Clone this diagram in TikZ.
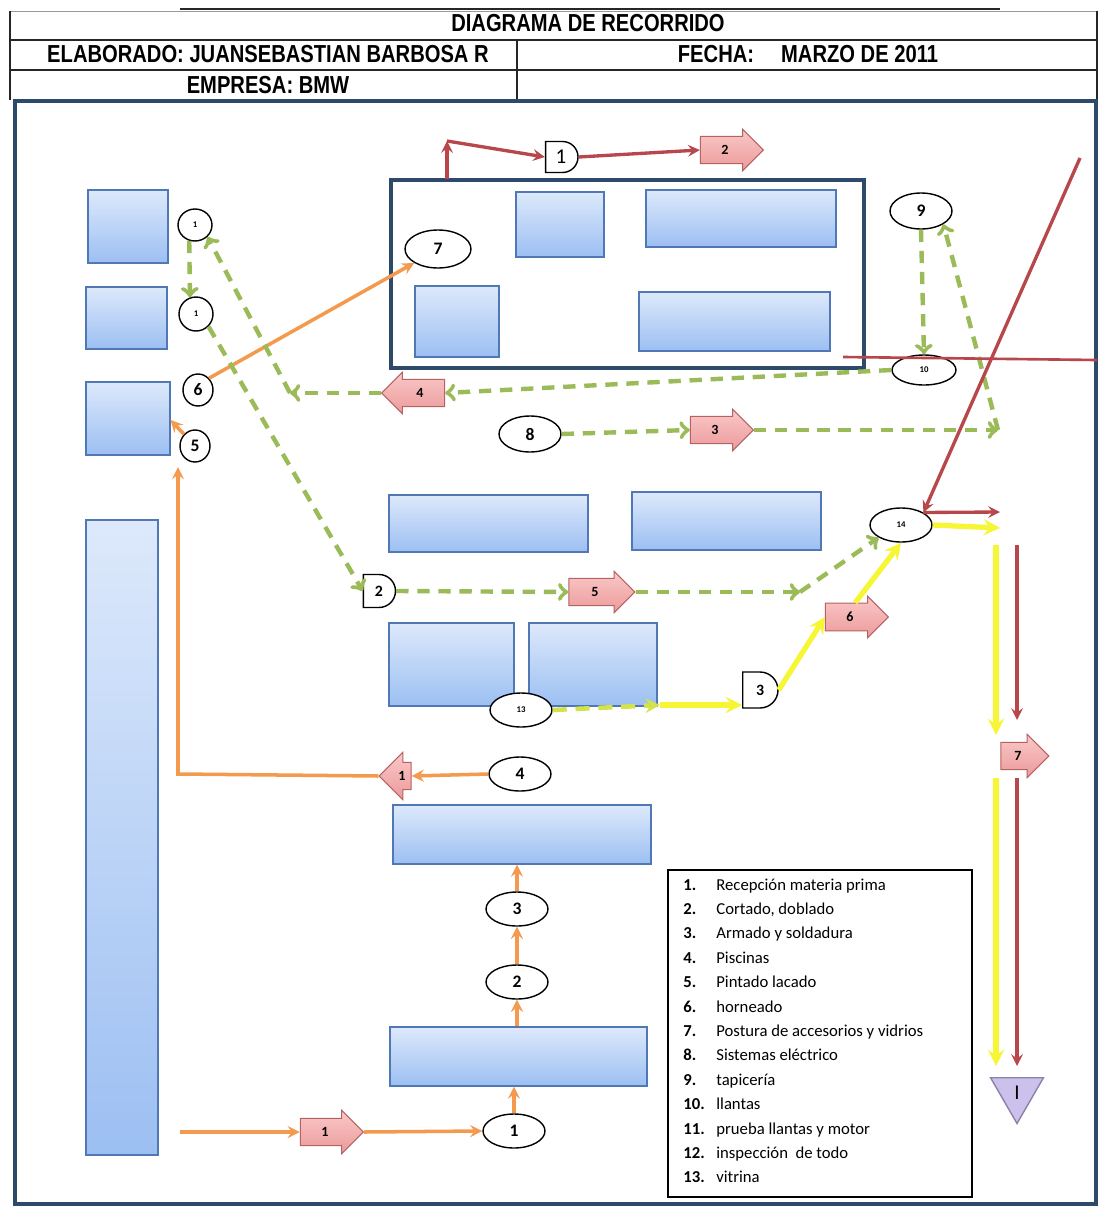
\documentclass[tikz,border=0pt]{standalone}
\usepackage{fontspec}
\setmainfont{Carlito}
\newfontfamily\hdrfont[FakeStretch=0.82]{Liberation Sans}
\usepackage{xcolor}
\usepackage{tikz}
\usetikzlibrary{shapes.geometric, shapes.arrows, shapes.misc, arrows, positioning, fit}

\definecolor{navy}{HTML}{2E4A6A}
\definecolor{boxtop}{HTML}{DDE9FB}
\definecolor{boxbot}{HTML}{9CBFF2}
\definecolor{boxline}{HTML}{4F78B4}
\definecolor{pinktop}{HTML}{FAC8C8}
\definecolor{pinkbot}{HTML}{EC9A9A}
\definecolor{pinkline}{HTML}{B56262}
\definecolor{redln}{HTML}{B8474B}
\definecolor{orangeln}{HTML}{F39A4E}
\definecolor{greenln}{HTML}{9BBB59}
\definecolor{yellowln}{HTML}{F6F634}
\definecolor{ygreen}{HTML}{D4E34A}
\definecolor{trifill}{HTML}{CCC1EC}
\definecolor{triline}{HTML}{8A82A8}

\begin{document}
\begin{tikzpicture}[x=0.02cm, y=-0.02cm, >=stealth]
        \tikzstyle{hdr} = [inner sep=0pt, font=\hdrfont\bfseries\fontsize{14}{16}\selectfont]
        \tikzstyle{bluebox} = [rectangle, draw=boxline, line width=0.6pt, top color=boxtop, bottom color=boxbot, inner sep=0pt]
        \tikzstyle{station} = [ellipse, draw=black, line width=0.8pt, fill=white, inner sep=0pt, minimum width=1.24cm, minimum height=0.68cm, font=\bfseries\normalsize]
        \tikzstyle{delay} = [rounded rectangle, rounded rectangle left arc=none, draw=black, line width=0.8pt, fill=white, inner sep=1pt, minimum width=0.72cm, minimum height=0.62cm]
        \tikzstyle{pinkarrow} = [single arrow, draw=pinkline, line width=0.6pt, top color=pinktop, bottom color=pinkbot, single arrow head extend=0.14cm, inner xsep=0.05cm, inner ysep=0.17cm, minimum height=1.26cm, font=\bfseries\footnotesize]
        \tikzstyle{oline} = [draw=orangeln, line width=2pt, ->]
        \tikzstyle{rline} = [draw=redln, line width=1.9pt, ->]
        \tikzstyle{gline} = [draw=greenln, line width=2.5pt, dash pattern=on 7pt off 5pt, -to]
        \tikzstyle{yline} = [draw=yellowln, line width=3pt, ->]

        \useasboundingbox (0,0) rectangle (1099,1207);
        \fill[white] (0,0) rectangle (1099,1207);

        % encabezado
        \draw[line width=1.6pt, black!85] (180,9) -- (1000,9);
        \draw[line width=0.4pt, black!40] (10,11) -- (1097,11);
        \draw[line width=0.8pt, black!85] (10,11) -- (10,100) (1097,11) -- (1097,100);
        \draw[line width=0.8pt, black!85] (10,40) -- (1097,40) (10,70) -- (1097,70) (517,40) -- (517,100);
        \node[hdr] (titulo) at (588,23) {DIAGRAMA DE RECORRIDO};
        \node[hdr] (elab) at (268,54) {ELABORADO: JUANSEBASTIAN BARBOSA R};
        \node[hdr] (fecha) at (808,54) {FECHA:\hspace{1.1em}MARZO DE 2011};
        \node[hdr] (empresa) at (268,85) {EMPRESA: BMW};

        \draw[navy, line width=2.4pt] (15,101) rectangle (1096,1204);

        % cajas
        \node[bluebox, fit={(88,190) (168,263)}] (b1) {};
        \node[bluebox, fit={(86,287) (167,349)}] (b2) {};
        \node[bluebox, fit={(86,382) (170,455)}] (b3) {};
        \node[bluebox, fit={(86,520) (158,1155)}] (b4) {};
        \node[draw=navy, line width=2.4pt, inner sep=0pt, fit={(391,180) (864,368)}] (zona) {};
        \node[bluebox, fit={(516,192) (604,257)}] (b5) {};
        \node[bluebox, fit={(646,190) (836,247)}] (b6) {};
        \node[bluebox, fit={(415,286) (499,357)}] (b7) {};
        \node[bluebox, fit={(639,292) (830,351)}] (b8) {};
        \node[bluebox, fit={(389,495) (588,552)}] (b9) {};
        \node[bluebox, fit={(632,492) (821,550)}] (b10) {};
        \node[bluebox, fit={(389,623) (514,706)}] (b11) {};
        \node[bluebox, fit={(529,623) (657,706)}] (b12) {};
        \node[bluebox, fit={(393,805) (651,864)}] (b13) {};
        \node[bluebox, fit={(390,1027) (647,1086)}] (b14) {};

        % estaciones
        \node[station] (e1) at (514,1131) {1};
        \node[station] (e2) at (517,982) {2};
        \node[station] (e3) at (517,909) {3};
        \node[station] (e4) at (520,774) {4};
        \node[station, minimum width=0.6cm, minimum height=0.64cm] (e5) at (195,446) {5};
        \node[station, minimum width=0.6cm, minimum height=0.64cm] (e6) at (198,390) {6};
        \node[station, minimum width=1.32cm, minimum height=0.76cm] (e7) at (438,249) {7};
        \node[station, minimum height=0.72cm] (e8) at (530,434) {8};
        \node[station, minimum height=0.72cm] (e9) at (921,211) {9};
        \node[station, minimum width=1.28cm, minimum height=0.6cm, font=\bfseries\tiny] (e10) at (924,370) {10};
        \node[station, font=\bfseries\tiny] (e13) at (521,710) {13};
        \node[station, font=\bfseries\tiny] (e14) at (901,525) {14};
        \node[station, minimum width=0.68cm, minimum height=0.64cm, font=\bfseries\tiny] (s1) at (195,225) {1};
        \node[station, minimum width=0.68cm, minimum height=0.68cm, font=\bfseries\tiny] (s2) at (196,314) {1};

        % demoras
        \node[delay, font=\large] (d1) at (561,157) {1};
        \node[delay, minimum width=0.36cm, minimum height=0.66cm, inner sep=0.5pt, font=\bfseries\small] (d2) at (379,591) {2};
        \node[delay, minimum width=0.7cm, minimum height=0.72cm, font=\bfseries\small] (d3) at (760,690) {3};

        % flechas de transporte
        \node[pinkarrow] (p2) at (725,150) {2};
        \node[pinkarrow, shape border rotate=180] (p4) at (420,393) {4};
        \node[pinkarrow] (p3) at (715,430) {3};
        \node[pinkarrow, minimum height=1.32cm] (p5) at (595,592) {5};
        \node[pinkarrow] (p6) at (850,617) {6};
        \node[pinkarrow, shape border rotate=180, minimum height=0.64cm, single arrow head extend=0.2cm] (p1a) at (402,776) {1};
        \node[pinkarrow, minimum height=0.96cm, single arrow head extend=0.16cm] (p7) at (1018,756) {7};
        \node[pinkarrow, single arrow head extend=0.16cm] (p1b) at (325,1132) {1};

        \node[regular polygon, regular polygon sides=3, shape border rotate=180, draw=triline, line width=0.8pt, fill=trifill, minimum size=1.22cm, inner sep=0pt, font=\large] (tri) at (1017,1093) {I};

        % recorrido naranja
        \coordinate (o0) at (180,1132);
        \coordinate (o1) at (178,774);
        \coordinate (o2) at (178,467);
        \draw[oline] (o0) -- (p1b.tail);
        \draw[oline] (p1b.tip) -- (e1.west);
        \draw[oline] (e1.north) -- (e1.north |- b14.south);
        \draw[oline] (b14.north -| e2) -- (e2.south);
        \draw[oline] (e2.north) -- (e3.south);
        \draw[oline] (e3.north) -- (e3.north |- b13.south);
        \draw[oline] (e4.west) -- (p1a.tail);
        \draw[oline] (p1a.tip) -- (o1) -- (o2);
        \draw[oline] (e5.north west) -- (b3.east |- 0,420);
        \draw[oline] (e6.north east) -- (e7.south west);

        % recorrido verde
        \coordinate (g1) at (290,393);
        \coordinate (g2) at (998,430);
        \coordinate (g3) at (800,592);
        \draw[gline] (s1.250) -- (s2.110);
        \draw[gline] (s2.south east) -- (d2.west);
        \draw[gline] (e10.west) -- (p4.tail);
        \draw[gline] (p4.tip) -- (g1);
        \draw[gline] (g1) -- (s1.south east);
        \draw[gline] (e8.east) -- (p3.tail);
        \draw[gline] (p3.tip) -- (g2);
        \draw[gline] (g2) -- (e9.south east);
        \draw[gline] (e9.south) -- (e10.north);
        \draw[gline] (d2.east) -- (p5.tail);
        \draw[gline] (p5.tip) -- (g3);
        \draw[gline] (g3) -- (e14.south west);

        % recorrido amarillo
        \coordinate (y1) at (660,705);
        \coordinate (y4) at (1000,528);
        \coordinate (y5) at (996,545);
        \coordinate (y6) at (996,735);
        \coordinate (y7) at (996,778);
        \coordinate (y8) at (996,1066);
        \draw[draw=ygreen, line width=2.6pt, dash pattern=on 8pt off 5pt, ->] (e13.east) -- (y1);
        \draw[yline] (y1) -- (y1 -| d3.west);
        \draw[yline] (d3.east) -- (p6.tail);
        \draw[yline] (p6.70) -- (e14.south);
        \draw[yline] (e14.east) -- (y4);
        \draw[yline] (y5) -- (y6);
        \draw[yline] (y7) -- (y8);

        % recorrido rojo
        \coordinate (r0) at (447,179);
        \coordinate (r1) at (447,141);
        \coordinate (r2) at (1080,158);
        \coordinate (r3) at (843,357);
        \coordinate (r4) at (1097,360);
        \coordinate (r5) at (1000,512);
        \coordinate (r6) at (1017,545);
        \coordinate (r7) at (1017,720);
        \coordinate (r8) at (1017,778);
        \coordinate (r9) at (1017,1066);
        \draw[rline] (r0) -- (r1);
        \draw[rline] (r1) -- (d1.west);
        \draw[rline] (d1.east) -- (p2.tail);
        \draw[rline] (r2) -- (e14.north east);
        \draw[draw=redln, line width=1.5pt] (r3) -- (r4);
        \draw[rline] (e14.north east) -- (r5);
        \draw[rline] (r6) -- (r7);
        \draw[rline] (r8) -- (r9);

        % leyenda
        \node[draw=black, line width=0.8pt, inner sep=0pt, fit={(668,870) (972,1197)}] (leyenda) {};
        \foreach \n/\txt [count=\i] in {1/Recepción materia prima, 2/{Cortado, doblado}, 3/Armado y soldadura, 4/Piscinas, 5/Pintado lacado, 6/horneado, 7/Postura de accesorios y vidrios, 8/Sistemas eléctrico, 9/tapicería, 10/llantas, 11/prueba llantas y motor, 12/inspección\ \ de todo, 13/vitrina}
        {
            \node[anchor=base west, inner sep=0pt, font=\bfseries\fontsize{9.5}{11}\selectfont] (n\i) at (683,{890+24.4*(\i-1)}) {\n.};
            \node[anchor=base west, inner sep=0pt, font=\fontsize{9.5}{11}\selectfont] (t\i) at (716,{890+24.4*(\i-1)}) {\txt};
        }
    \end{tikzpicture}
\end{document}
